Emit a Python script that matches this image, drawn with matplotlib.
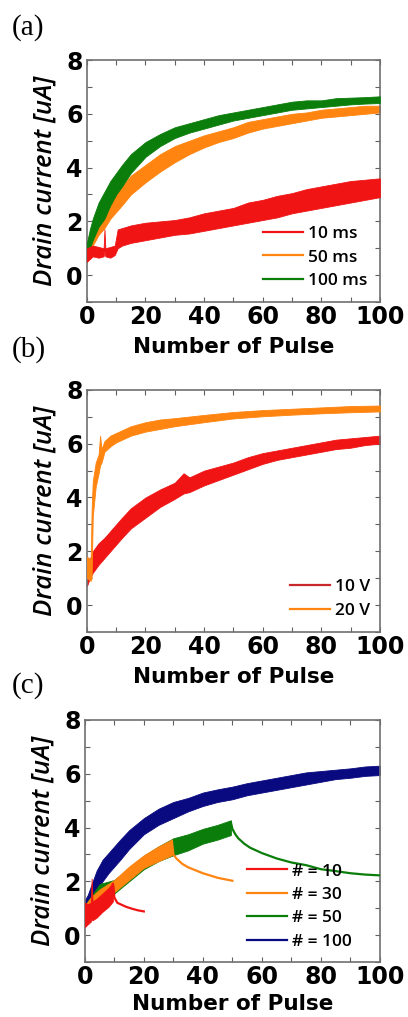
import numpy as np
import matplotlib
matplotlib.use("Agg")
import matplotlib.pyplot as plt
from matplotlib.lines import Line2D
from matplotlib.ticker import MultipleLocator

plt.rcParams['font.family'] = ['DejaVu Sans']

RED = '#f01414'
ORANGE = '#ff8410'
GREEN = '#0a7d0a'
NAVY = '#0a0a80'

# ---- (a) pulse width: noise band read as lower / upper envelope ----
a_red_x = [0, 1, 2, 4, 5.7, 6, 6.3, 8, 9.5, 10.5, 12, 15, 20, 25, 30, 35, 40, 45, 50, 55, 60, 65, 70, 75, 80, 85, 90, 95, 100]
a_red_lo = [0.5, 0.6, 0.7, 0.65, 0.7, 0.9, 0.7, 0.65, 0.75, 1.0, 1.1, 1.2, 1.3, 1.4, 1.5, 1.55, 1.65, 1.75, 1.85, 1.95, 2.05, 2.15, 2.3, 2.4, 2.5, 2.6, 2.7, 2.8, 2.9]
a_red_hi = [1.0, 1.05, 1.1, 1.05, 1.0, 1.7, 1.0, 1.05, 1.1, 1.7, 1.75, 1.85, 1.95, 2.0, 2.05, 2.15, 2.3, 2.4, 2.5, 2.7, 2.8, 2.95, 3.05, 3.2, 3.3, 3.4, 3.5, 3.55, 3.6]

a_x = [0, 1, 2, 4, 6, 8, 10, 12, 15, 20, 25, 30, 35, 40, 45, 50, 55, 60, 65, 70, 75, 80, 85, 90, 95, 100]
a_org_lo = [0.6, 0.8, 1.1, 1.5, 1.75, 2.1, 2.35, 2.6, 3.0, 3.45, 3.85, 4.2, 4.5, 4.75, 4.95, 5.1, 5.3, 5.45, 5.55, 5.65, 5.75, 5.85, 5.9, 5.95, 6.0, 6.05]
a_org_hi = [1.2, 1.5, 1.8, 2.2, 2.5, 2.8, 3.05, 3.3, 3.7, 4.1, 4.5, 4.8, 5.0, 5.2, 5.35, 5.5, 5.7, 5.8, 5.9, 6.0, 6.05, 6.15, 6.2, 6.25, 6.3, 6.3]
a_grn_lo = [0.5, 1.0, 1.3, 1.8, 2.1, 2.6, 3.0, 3.3, 3.8, 4.4, 4.8, 5.1, 5.3, 5.45, 5.6, 5.75, 5.85, 5.95, 6.05, 6.15, 6.2, 6.25, 6.3, 6.35, 6.38, 6.4]
a_grn_hi = [1.2, 1.7, 2.1, 2.7, 3.1, 3.5, 3.8, 4.1, 4.5, 4.95, 5.25, 5.5, 5.65, 5.8, 5.95, 6.05, 6.15, 6.25, 6.35, 6.45, 6.5, 6.5, 6.58, 6.6, 6.62, 6.65]

# ---- (b) pulse amplitude ----
b_red_x = [0, 1, 2, 4, 6, 8, 10, 12, 15, 20, 25, 30, 33, 35, 40, 45, 50, 55, 60, 65, 70, 75, 80, 85, 90, 95, 100]
b_red_lo = [0.7, 1.0, 1.2, 1.5, 1.75, 2.0, 2.25, 2.5, 2.85, 3.25, 3.65, 3.95, 4.15, 4.2, 4.45, 4.65, 4.85, 5.05, 5.25, 5.4, 5.5, 5.6, 5.7, 5.8, 5.85, 5.95, 6.0]
b_red_hi = [1.3, 1.7, 2.0, 2.3, 2.5, 2.75, 3.0, 3.25, 3.6, 4.0, 4.3, 4.55, 4.9, 4.75, 5.0, 5.15, 5.3, 5.5, 5.65, 5.75, 5.85, 5.95, 6.05, 6.15, 6.2, 6.25, 6.3]

b_org_x = [0, 1.3, 1.6, 2, 3, 4, 4.5, 5, 6, 8, 10, 12, 15, 20, 25, 30, 40, 50, 60, 70, 80, 90, 100]
b_org_lo = [1.0, 0.9, 1.0, 3.3, 4.4, 4.9, 5.2, 5.3, 5.7, 5.9, 6.05, 6.15, 6.3, 6.45, 6.55, 6.65, 6.8, 6.94, 7.02, 7.08, 7.13, 7.17, 7.2]
b_org_hi = [1.8, 1.7, 3.5, 4.6, 5.3, 5.6, 6.3, 5.8, 6.1, 6.3, 6.4, 6.5, 6.65, 6.8, 6.9, 6.95, 7.07, 7.18, 7.25, 7.3, 7.35, 7.4, 7.42]

# ---- (c) number of pulses, followed by relaxation ----
c_blu_x = [0, 1, 2, 4, 6, 8, 10, 12, 15, 20, 25, 30, 35, 40, 45, 50, 55, 60, 65, 70, 75, 80, 85, 90, 95, 100]
c_blu_lo = [1.0, 1.05, 1.2, 1.65, 2.0, 2.3, 2.55, 2.8, 3.2, 3.75, 4.1, 4.35, 4.6, 4.8, 4.95, 5.05, 5.2, 5.3, 5.4, 5.5, 5.6, 5.7, 5.8, 5.85, 5.92, 5.95]
c_blu_hi = [1.3, 1.5, 1.8, 2.4, 2.8, 3.05, 3.3, 3.55, 3.9, 4.35, 4.7, 4.95, 5.1, 5.3, 5.42, 5.52, 5.65, 5.75, 5.85, 5.95, 6.05, 6.1, 6.15, 6.2, 6.27, 6.3]

c_grn_x = [0, 5, 10, 15, 20, 25, 30, 35, 40, 45, 49.5]
c_grn_lo = [0.6, 1.3, 1.55, 2.0, 2.45, 2.75, 2.97, 3.15, 3.4, 3.55, 3.72]
c_grn_hi = [1.1, 1.9, 2.05, 2.5, 2.95, 3.3, 3.6, 3.75, 3.95, 4.1, 4.27]
c_grn_rx = [49.5, 50, 51, 52, 54, 56, 60, 65, 70, 75, 80, 85, 90, 95, 100]
c_grn_ry = [4.2, 3.95, 3.75, 3.6, 3.4, 3.25, 3.05, 2.85, 2.7, 2.6, 2.45, 2.38, 2.3, 2.25, 2.22]

c_org_x = [0, 2, 5, 10, 15, 20, 25, 29.5]
c_org_lo = [0.6, 0.9, 1.2, 1.6, 2.05, 2.5, 2.75, 2.97]
c_org_hi = [1.1, 1.4, 1.7, 2.05, 2.55, 2.97, 3.3, 3.55]
c_org_rx = [29.5, 30, 31, 33, 35, 40, 45, 50]
c_org_ry = [3.5, 3.0, 2.85, 2.65, 2.52, 2.3, 2.13, 2.02]

c_red_x = [0, 1, 2, 2.3, 2.6, 4, 6, 8, 9.5]
c_red_lo = [0.3, 0.4, 0.5, 0.6, 0.55, 0.65, 0.87, 1.05, 1.25]
c_red_hi = [1.2, 1.15, 1.2, 2.1, 1.25, 1.35, 1.55, 1.75, 1.95]
c_red_rx = [9.5, 9.7, 10, 10.5, 11, 12, 14, 16, 18, 20]
c_red_ry = [1.9, 1.8, 1.4, 1.3, 1.2, 1.15, 1.05, 0.98, 0.92, 0.88]

x_ticks = [0, 20, 40, 60, 80, 100]
y_ticks = [0, 2, 4, 6, 8]


def band(ax, x, lo, hi, color, z):
    ax.fill_between(x, lo, hi, color=color, lw=0.6, edgecolor=color, zorder=z)


def style(ax, labels, colors, anchor, xpad=6):
    ax.set_xlim(0, 100)
    ax.set_ylim(-1, 8)
    ax.set_xticks(x_ticks)
    ax.set_yticks(y_ticks)
    ax.xaxis.set_minor_locator(MultipleLocator(10))
    ax.yaxis.set_minor_locator(MultipleLocator(1))
    ax.tick_params(which='both', direction='in', top=True, right=True,
                   length=3.5, width=0.8, color='#606060')
    ax.tick_params(axis='x', labelsize=17, pad=2)
    ax.tick_params(axis='y', labelsize=17, pad=3)
    for t in ax.get_xticklabels() + ax.get_yticklabels():
        t.set_fontweight('bold')
    for s in ax.spines.values():
        s.set_color('#707070')
        s.set_linewidth(1.2)
    ax.set_xlabel('Number of Pulse', fontsize=15.5, fontweight='bold', labelpad=xpad)
    ax.set_ylabel('Drain current [uA]', fontsize=18.5, fontstyle='italic',
                  fontweight='semibold', family=['Open Sans', 'DejaVu Sans'], labelpad=6)
    handles = [Line2D([], [], color=c, lw=1.6) for c in colors]
    ax.legend(handles, labels, loc='lower left', bbox_to_anchor=anchor,
              frameon=False, borderpad=0, borderaxespad=0, handlelength=2.3,
              handletextpad=0.3, labelspacing=0.42,
              prop={'size': 12.5, 'weight': 'semibold', 'family': ['Open Sans', 'DejaVu Sans']})


fig = plt.figure(figsize=(4.08, 10.17), dpi=100)

ax_a = fig.add_axes([0.213, 0.703, 0.718, 0.238])
band(ax_a, a_x, a_org_lo, a_org_hi, ORANGE, 2)
band(ax_a, a_x, a_grn_lo, a_grn_hi, GREEN, 3)
band(ax_a, a_red_x, a_red_lo, a_red_hi, RED, 4)
style(ax_a, ['10 ms', '50 ms', '100 ms'], [RED, ORANGE, GREEN], (0.60, 0.054))

ax_b = fig.add_axes([0.213, 0.3786, 0.718, 0.238])
band(ax_b, b_red_x, b_red_lo, b_red_hi, RED, 2)
band(ax_b, b_org_x, b_org_lo, b_org_hi, ORANGE, 3)
style(ax_b, ['10 V', '20 V'], ['#c8282a', ORANGE], (0.693, 0.055))

ax_c = fig.add_axes([0.208, 0.0541, 0.723, 0.238])
band(ax_c, c_blu_x, c_blu_lo, c_blu_hi, NAVY, 2)
band(ax_c, c_grn_x, c_grn_lo, c_grn_hi, GREEN, 3)
ax_c.plot(c_grn_rx, c_grn_ry, color=GREEN, lw=1.6, zorder=3)
band(ax_c, c_org_x, c_org_lo, c_org_hi, ORANGE, 4)
ax_c.plot(c_org_rx, c_org_ry, color=ORANGE, lw=1.6, zorder=4)
band(ax_c, c_red_x, c_red_lo, c_red_hi, RED, 5)
ax_c.plot(c_red_rx, c_red_ry, color=RED, lw=1.6, zorder=5)
style(ax_c, ['# = 10', '# = 30', '# = 50', '# = 100'], [RED, ORANGE, GREEN, NAVY], (0.549, 0.05), xpad=4)

for lab, yy in [('(a)', 1 - 28 / 1017), ('(b)', 1 - 350 / 1017), ('(c)', 1 - 686 / 1017)]:
    fig.text(0.028, yy, lab, fontsize=21, family='Liberation Serif', va='center', ha='left')

fig.savefig('out.png', dpi=100)
